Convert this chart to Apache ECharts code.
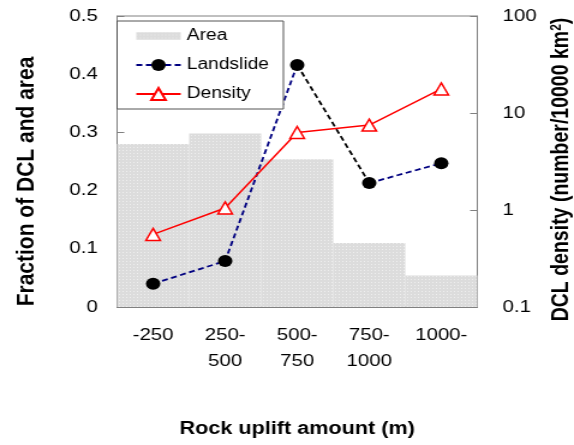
<!DOCTYPE html>
<html>
<head>
<meta charset="utf-8">
<script src="https://cdn.jsdelivr.net/npm/echarts@6/dist/echarts.min.js"></script>
<style>
  html, body { margin: 0; padding: 0; background: #fff; overflow: hidden; }
  /* the original figure is stretched horizontally, so draw narrower and stretch */
  #main { width: 478px; height: 445px; transform: scaleX(1.2008); transform-origin: 0 0; }
</style>
</head>
<body>
<div id="main"></div>
<script>
const categories = ['-250', '250-\n500', '500-\n750', '750-\n1000', '1000-']
const areaFraction = [0.280, 0.298, 0.254, 0.110, 0.054]
const landslideFraction = [0.040, 0.079, 0.416, 0.213, 0.247]
const dclDensity = [0.56, 1.05, 6.3, 7.5, 17.7]

const FONT = 'Liberation Sans, Arial, sans-serif'
const NAVY = '#000080'
const RED = '#ff0000'
const AXIS_GRAY = '#808080'

// keep only the points between two indexes, so a segment can get its own colour
function segment(arr, from, to) {
  return arr.map((v, i) => (i >= from && i <= to ? v : '-'))
}

const chart = echarts.init(document.getElementById('main'), null, { renderer: 'canvas' })

const areaDecal = {
  symbol: 'rect',
  symbolSize: 1,
  color: 'rgba(255,255,255,0.55)',
  dashArrayX: [[1, 2]],
  dashArrayY: [1, 2],
  rotation: 0
}

chart.setOption({
  animation: false,
  textStyle: { fontFamily: FONT, color: '#000' },
  grid: {
    left: 97.5,
    right: 80.5,
    top: 16,
    bottom: 138,
    containLabel: false,
    outerBoundsMode: 'none',
    show: true,
    borderColor: AXIS_GRAY,
    borderWidth: 1
  },
  legend: {
    left: 97.5,
    top: 21,
    orient: 'vertical',
    padding: [6, 12, 6, 15],
    itemGap: 11,
    itemWidth: 37,
    itemHeight: 15,
    backgroundColor: '#fff',
    borderColor: '#555',
    borderWidth: 1,
    textStyle: { fontSize: 16, lineHeight: 18, color: '#000', fontFamily: FONT },
    data: [
      { name: 'Area', icon: 'path://M0,0h40v8h-40z' },
      'Landslide',
      'Density'
    ]
  },
  xAxis: {
    type: 'category',
    data: categories,
    boundaryGap: true,
    axisLine: { lineStyle: { color: AXIS_GRAY } },
    axisTick: { inside: true, length: 6, lineStyle: { color: AXIS_GRAY } },
    axisLabel: { interval: 0, fontSize: 17, lineHeight: 25.5, margin: 16, color: '#000' },
    name: 'Rock uplift amount (m)',
    nameLocation: 'middle',
    nameGap: 113,
    nameTextStyle: { fontSize: 18, fontWeight: 'bold', color: '#000' }
  },
  yAxis: [
    {
      type: 'value',
      min: 0,
      max: 0.5,
      interval: 0.1,
      splitLine: { show: false },
      axisLine: { show: true, lineStyle: { color: AXIS_GRAY } },
      axisTick: { show: true, inside: true, length: 6, lineStyle: { color: AXIS_GRAY } },
      axisLabel: { fontSize: 17, margin: 16, color: '#000' },
      name: 'Fraction of DCL and area',
      nameLocation: 'middle',
      nameGap: 65,
      nameTextStyle: { fontSize: 21, fontWeight: 'bold', color: '#000', padding: [0, 40, 0, 0] }
    },
    {
      type: 'log',
      logBase: 10,
      min: 0.1,
      max: 100,
      position: 'right',
      splitLine: { show: false },
      minorTick: { show: false },
      axisLine: { show: true, lineStyle: { color: AXIS_GRAY } },
      axisTick: { show: true, inside: true, length: 6, lineStyle: { color: AXIS_GRAY } },
      axisLabel: { fontSize: 17, margin: 21, color: '#000' },
      name: '{t|DCL density (number/10000 km}{s|2}{t|)}',
      nameLocation: 'middle',
      nameGap: 55,
      nameTextStyle: {
        color: '#000',
        padding: [0, 16, 0, 0],
        rich: {
          t: { fontSize: 19.5, fontWeight: 'bold', fontFamily: FONT, color: '#000' },
          s: { fontSize: 12, fontWeight: 'bold', fontFamily: FONT, color: '#000', verticalAlign: 'top', padding: [0, 0, 8, 0] }
        }
      }
    }
  ],
  series: [
    {
      name: 'Area',
      type: 'bar',
      data: areaFraction,
      barWidth: '100%',
      barCategoryGap: '0%',
      itemStyle: { color: '#dcdcdc', decal: areaDecal },
      z: 1
    },
    {
      name: '_landslideMid',
      type: 'line',
      data: segment(landslideFraction, 2, 3),
      showSymbol: false,
      symbol: 'none',
      lineStyle: { color: '#000', width: 1.8, type: [5, 3] },
      z: 3
    },
    {
      name: 'Landslide',
      type: 'line',
      data: segment(landslideFraction, 0, 2),
      symbol: 'circle',
      symbolSize: 12,
      itemStyle: { color: '#000' },
      lineStyle: { color: NAVY, width: 1.8, type: [5, 3] },
      z: 3
    },
    {
      name: '_landslideEnd',
      type: 'line',
      data: segment(landslideFraction, 3, 4),
      symbol: 'circle',
      symbolSize: 12,
      itemStyle: { color: '#000' },
      lineStyle: { color: NAVY, width: 1.8, type: [5, 3] },
      z: 3
    },
    {
      name: 'Density',
      type: 'line',
      yAxisIndex: 1,
      data: dclDensity,
      symbol: 'triangle',
      symbolSize: 12,
      itemStyle: { color: '#fff', borderColor: RED, borderWidth: 1.5 },
      lineStyle: { color: RED, width: 1.5 },
      z: 4
    }
  ]
})
</script>
</body>
</html>
